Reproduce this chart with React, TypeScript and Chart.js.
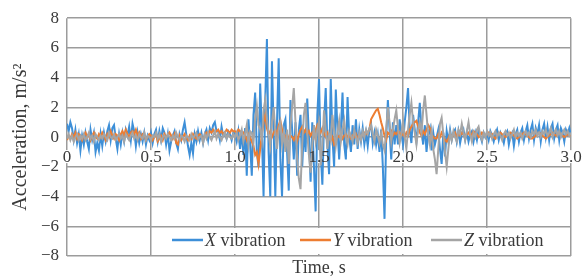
import React, { useEffect, useRef } from "react";
import { Chart, registerables } from "chart.js";

Chart.register(...registerables);

// ---- data ----
const TIME_STEP = 0.01; // s, sampling interval of the records
const X_TICKS = [0, 0.5, 1.0, 1.5, 2.0, 2.5, 3.0];
const X_TICK_LABELS = ["0", "0.5", "1.0", "1.5", "2.0", "2.5", "3.0"];
const Y_TICKS = [-8, -6, -4, -2, 0, 2, 4, 6, 8];
const Y_TICK_LABELS = ["\u22128", "\u22126", "\u22124", "\u22122", "0", "2", "4", "6", "8"];
const SERIES_LETTERS = ["X", "Y", "Z"];
const SERIES_SUFFIX = " vibration";

const X_VIB = [
  0.9, 0.4, 1.0, 0.6, -0.2, 0.5, -0.4, 0.2, -0.9, 0.1,
  -0.5, 0.3, -0.3, -0.8, 0.5, -0.2, 0.3, -1.0, -0.4, -0.9,
  0.2, -0.6, 0.3, -0.3, 0.4, 0.8, -0.2, 0.6, 0.8, -0.1,
  -0.8, 0.2, -0.5, 0.3, -0.3, 0.5, 0.1, 0.7, -0.2, 0.9,
  0.4, -0.6, 0.3, -0.4, 0.2, -0.3, 0.3, -0.5, 0.1, -0.2,
  0.3, -0.4, 0.2, 0.5, -0.3, 0.4, -0.2, 0.6, 0.3, -0.5,
  0.2, -0.9, -0.3, 0.1, 0.4, -0.4, -0.8, 0.2, -0.2, 0.5,
  1.0, 0.2, -0.6, -1.2, -0.4, -1.1, 0.2, -0.3, 0.4, -0.2,
  0.3, -0.4, 0.2, 0.5, -0.2, 0.6, 0.3, 0.8, 1.0, 0.4,
  0.4, -0.2, 0.7, 0.1, 0.3, -0.1, 0.4, 0.2, -0.2, 0.3,
  0.2, -0.3, 0.4, -0.8, 0.3, -1.2, 0.6, -2.6, 1.2, -0.5,
  -2.6, 1.5, 3.0, -1.0, -2.0, 3.6, 0.2, -4.0, 2.5, 6.6,
  -1.0, -4.0, 5.1, 0.5, -4.0, 1.0, 5.3, -1.5, -4.0, 0.8,
  1.2, -1.0, -3.6, 2.5, 0.5, -1.5, 1.0, -2.6, 0.5, 1.5,
  -2.0, 0.5, -1.0, 2.6, 0.0, -3.0, 1.0, -2.0, -5.0, 1.5,
  3.9, -1.0, -3.2, 1.0, 3.3, -0.5, -2.5, 3.9, 0.0, -2.0,
  3.2, 0.5, -1.5, 0.5, 3.0, -0.5, -1.5, 2.7, 0.0, -1.0,
  0.8, -0.5, 1.2, -0.8, 0.5, -0.3, 0.6, -0.5, 0.3, -0.6,
  0.5, 0.9, -0.4, 0.3, -0.5, 0.2, -1.0, 0.5, -2.0, -5.5,
  0.0, 2.5, 0.5, -1.5, 1.0, -0.5, 0.8, -0.5, 1.2, 0.3,
  -0.5, 1.0, 2.0, 3.3, 0.5, -0.4, 1.5, 0.5, -0.3, 1.0,
  2.3, 0.5, -0.5, 0.8, -1.0, 0.2, 0.6, -0.9, 0.3, -0.5,
  0.0, 0.5, -0.8, -1.8, 0.3, -1.3, 0.4, -0.3, 0.5, -0.2,
  0.3, 0.5, -0.3, 0.4, -0.4, 0.2, 0.5, -0.2, 0.3, -0.3,
  0.2, 0.4, -0.3, 0.3, -0.2, 0.5, 0.1, -0.3, 0.3, 0.0,
  0.3, -0.2, 0.4, 0.1, -0.3, 0.2, 0.5, -0.2, 0.3, 0.0,
  -0.4, 0.2, 0.4, -0.5, 0.1, 0.3, -0.6, 0.2, 0.5, -0.3,
  0.3, 0.6, -0.2, 0.4, 0.8, -0.1, 0.5, 0.9, -0.2, 0.6,
  0.2, 0.8, -0.3, 0.5, 0.9, 0.0, 0.7, -0.2, 0.6, 0.9,
  -0.1, 0.5, 0.8, -0.2, 0.6, 0.3, -0.3, 0.5, 0.2, 0.6,
  0.1,
];

const Y_VIB = [
  -0.2, 0.1, -0.1, 0.2, 0.0, 0.3, -0.1, 0.2, 0.1, -0.2,
  0.1, 0.3, 0.0, 0.2, -0.2, 0.1, 0.3, 0.0, -0.1, 0.2,
  0.0, 0.3, 0.1, -0.2, 0.2, 0.0, 0.4, 0.1, -0.1, 0.2,
  0.1, -0.2, 0.2, 0.4, 0.1, 0.5, 0.2, -0.1, 0.3, 0.4,
  0.2, 0.5, 0.1, 0.3, -0.1, 0.2, 0.1, -0.2, 0.0, 0.2,
  0.1, -0.2, 0.0, 0.2, -0.3, -0.1, 0.1, -0.2, 0.2, 0.0,
  0.1, 0.3, 0.1, -0.1, 0.2, -0.4, -0.5, 0.1, -0.2, 0.0,
  0.2, 0.0, -0.2, 0.1, -0.1, 0.2, 0.0, -0.1, 0.1, 0.2,
  0.0, -0.2, 0.1, 0.3, 0.2, 0.4, 0.3, 0.5, 0.3, 0.4,
  0.5, 0.3, 0.4, 0.2, 0.3, 0.5, 0.4, 0.3, 0.5, 0.4,
  0.4, 0.3, 0.5, 0.4, 0.2, 0.3, 0.1, -0.2, 0.2, 0.0,
  -0.3, -0.6, -1.2, -1.0, -1.8, -0.8, 0.2, 1.0, 1.5, 0.6,
  0.2, 0.4, 0.0, 0.3, 0.5, 0.2, 0.8, 1.1, 0.5, 0.2,
  0.0, 0.2, -0.1, 0.1, 0.0, -0.2, 0.1, -0.3, 0.2, 0.5,
  0.7, 0.3, 0.5, 0.2, 0.4, 0.1, 0.3, 0.0, 0.5, 0.8,
  0.5, 0.3, 0.6, 0.2, 0.0, 0.3, 0.1, -0.2, 0.0, -0.5,
  -0.3, 0.1, 0.0, 0.2, -0.1, 0.1, 0.2, 0.0, 0.1, -0.1,
  0.1, 0.0, 0.2, -0.1, 0.1, 0.0, 0.2, 0.3, 0.2, 0.3,
  0.5, 1.2, 1.4, 1.6, 1.8, 1.9, 1.5, 1.0, 0.6, 0.1,
  -0.2, 0.3, 0.2, 0.4, 0.1, 0.3, 0.2, 0.4, 0.3, 0.1,
  0.2, 0.0, 0.3, 0.1, 0.5, 0.7, 0.9, 1.0, 1.1, 0.7,
  0.3, 0.1, 0.4, 0.2, 0.5, 0.8, 0.6, 0.2, 0.0, -0.1,
  -0.1, 0.2, 0.0, 0.3, 0.1, -0.2, -0.3, -0.1, 0.2, 0.0,
  0.1, 0.3, 0.0, 0.2, 0.1, 0.3, 0.2, 0.0, 0.2, 0.3,
  0.1, 0.2, 0.4, 0.3, 0.2, 0.0, 0.1, 0.3, 0.2, 0.1,
  0.2, 0.3, 0.1, 0.2, 0.0, -0.1, 0.1, 0.2, 0.3, 0.2,
  0.1, 0.0, 0.1, 0.2, 0.3, 0.2, 0.1, 0.0, -0.1, 0.0,
  0.1, 0.2, 0.3, 0.2, 0.1, 0.0, -0.1, -0.1, 0.0, 0.1,
  0.2, 0.3, 0.2, 0.1, 0.0, -0.1, 0.0, 0.1, 0.2, 0.3,
  0.2, 0.1, 0.2, 0.3, 0.2, 0.1, 0.0, 0.1, 0.2, 0.1,
  0.2,
];

const Z_VIB = [
  -0.1, 0.2, -0.2, 0.1, -0.3, 0.0, 0.2, -0.2, 0.1, -0.1,
  0.2, -0.2, 0.0, 0.3, -0.1, 0.1, -0.3, 0.2, 0.0, -0.2,
  0.1, -0.1, 0.2, 0.0, -0.2, 0.3, 0.0, -0.1, 0.2, -0.2,
  0.0, 0.2, -0.1, 0.1, -0.3, 0.2, 0.0, -0.2, 0.1, 0.3,
  -0.1, 0.1, -0.2, 0.2, 0.0, -0.1, 0.3, -0.2, 0.1, 0.0,
  -0.2, 0.1, 0.0, 0.3, -0.1, 0.2, -0.3, 0.0, 0.1, -0.1,
  0.2, 0.0, -0.2, 0.1, -0.1, 0.3, 0.0, -0.2, 0.1, 0.0,
  -0.3, 0.1, 0.0, -0.2, 0.2, -0.1, 0.1, 0.3, -0.2, 0.0,
  0.1, -0.4, 0.2, -0.1, 0.3, 0.0, -0.2, 0.1, 0.4, -0.1,
  0.2, 0.0, -0.2, 0.1, 0.3, -0.1, 0.2, 0.0, -0.1, 0.2,
  0.0, 0.3, -0.2, 0.1, 0.5, -0.3, 0.2, 0.8, -0.5, 0.4,
  0.3, -0.4, 1.3, 2.1, 0.8, 0.5, -0.2, 1.8, 2.5, 1.2,
  0.2, -0.6, 1.0, 2.0, 0.4, -0.8, 0.5, 1.0, -0.5, 0.3,
  -1.0, 0.5, -1.8, 0.8, 2.0, 3.3, 1.0, -1.5, -2.8, -3.5,
  -0.5, 1.5, 2.3, 0.3, -1.2, -2.4, -0.5, 0.8, -0.3, 0.5,
  1.0, -1.9, -0.5, 1.8, 0.5, -0.8, 0.2, -0.2, 1.5, 0.4,
  -0.6, 0.3, 1.1, -0.3, 0.5, 1.1, 0.0, -0.5, 0.4, 0.1,
  -0.3, 0.5, 0.0, -0.4, 0.3, -0.2, 0.4, 0.0, 0.5, 0.2,
  0.6, 0.8, 0.2, -0.3, 0.5, 0.1, -0.4, 0.3, -0.5, -0.9,
  0.5, 2.0, 1.0, -0.3, 0.5, 1.2, 1.8, 0.6, -0.4, 0.2,
  1.1, 0.0, -0.8, 0.5, 1.5, 2.3, 1.0, 0.3, -0.5, 0.5,
  1.0, 0.3, 1.8, 2.8, 1.5, 0.2, -0.5, 0.4, -0.8, -1.5,
  -2.5, -0.8, 0.9, 1.3, 0.2, -1.0, -2.0, -0.8, 0.3, -0.2,
  0.4, 0.0, -0.3, 0.5, 0.2, 0.9, 0.3, -0.2, 0.4, 1.0,
  0.2, -0.3, 0.3, 0.0, 0.5, 0.7, 0.1, -0.2, 0.3, 0.0,
  0.4, 0.1, 0.3, -0.1, 0.2, 0.4, 0.0, 0.3, 0.1, -0.2,
  0.2, 0.4, 0.1, 0.3, -0.1, 0.2, 0.5, 0.0, 0.3, 0.1,
  0.3, -0.1, 0.2, 0.4, 0.1, 0.3, 0.0, 0.4, 0.2, 0.5,
  0.1, 0.3, 0.0, 0.4, 0.2, 0.5, 0.1, 0.3, 0.6, 0.0,
  0.3, 0.5, 0.1, 0.4, 0.0, 0.3, 0.5, 0.2, 0.4, 0.1,
  0.3,
];

// ---- styles ----
const FONT = "'Liberation Serif', 'Times New Roman', serif";
const TEXT_COLOR = "#3a3a3a";
const GRID_COLOR = "#9c9c9c";
const COLORS = ["#3d8fd8", "#ed7d31", "#a5a5a5"];

const toPoints = (arr: number[]) =>
  arr.map((v, i) => ({ x: Math.round(i * TIME_STEP * 100) / 100, y: v }));

const xLabelsPlugin = {
  id: "xLabelsOnZero",
  beforeDatasetsDraw(chart: any) {
    const { ctx, scales } = chart;
    const y0 = scales.y.getPixelForValue(0);
    ctx.save();
    ctx.font = `17px ${FONT}`;
    ctx.fillStyle = "#ffffff";
    X_TICKS.forEach((t, i) => {
      const x = scales.x.getPixelForValue(t);
      const w = ctx.measureText(X_TICK_LABELS[i]).width;
      ctx.fillRect(x - w / 2 - 1, y0 + 13, w + 2, 13);
    });
    ctx.restore();
  },
  afterDatasetsDraw(chart: any) {
    const { ctx, scales } = chart;
    const y0 = scales.y.getPixelForValue(0);
    ctx.save();
    ctx.font = `17px ${FONT}`;
    ctx.fillStyle = TEXT_COLOR;
    ctx.textAlign = "center";
    ctx.textBaseline = "alphabetic";
    X_TICKS.forEach((t, i) => {
      const x = scales.x.getPixelForValue(t);
      ctx.fillText(X_TICK_LABELS[i], x, y0 + 25);
    });
    ctx.restore();
  },
};

const legendPlugin = {
  id: "insideLegend",
  afterDraw(chart: any) {
    const { ctx, chartArea } = chart;
    const left = chartArea.left;
    const bottom = chartArea.bottom;
    ctx.save();
    ctx.fillStyle = "#ffffff";
    ctx.fillRect(left + 93, bottom - 28, chartArea.right - left - 96, 26);
    const starts = [left + 105, left + 233, left + 364];
    const yLine = bottom - 16;
    SERIES_LETTERS.forEach((letter, i) => {
      const sx = starts[i];
      ctx.strokeStyle = COLORS[i];
      ctx.lineWidth = 2.5;
      ctx.beginPath();
      ctx.moveTo(sx, yLine);
      ctx.lineTo(sx + 31, yLine);
      ctx.stroke();
      ctx.fillStyle = TEXT_COLOR;
      ctx.textBaseline = "alphabetic";
      ctx.textAlign = "left";
      ctx.font = `italic 18px ${FONT}`;
      const tx = sx + 33;
      ctx.fillText(letter, tx, bottom - 10);
      const lw = ctx.measureText(letter).width;
      ctx.font = `18px ${FONT}`;
      ctx.fillText(SERIES_SUFFIX, tx + lw, bottom - 10);
    });
    ctx.restore();
  },
};

export default function App() {
  const canvasRef = useRef<HTMLCanvasElement | null>(null);

  useEffect(() => {
    if (!canvasRef.current) return;
    const series = [X_VIB, Y_VIB, Z_VIB];
    const chart = new Chart(canvasRef.current, {
      type: "line",
      data: {
        datasets: series.map((arr, i) => ({
          label: SERIES_LETTERS[i] + SERIES_SUFFIX,
          data: toPoints(arr),
          borderColor: COLORS[i],
          backgroundColor: COLORS[i],
          borderWidth: 2,
          pointRadius: 0,
          tension: 0,
          fill: false,
          order: 3 - i,
        })),
      },
      options: {
        animation: false,
        responsive: true,
        maintainAspectRatio: false,
        events: [],
        layout: { padding: { top: 18, right: 13, left: 0, bottom: 0 } },
        plugins: {
          legend: { display: false },
          tooltip: { enabled: false },
        },
        scales: {
          x: {
            type: "linear",
            min: X_TICKS[0],
            max: X_TICKS[X_TICKS.length - 1],
            afterBuildTicks: (scale: any) => {
              scale.ticks = X_TICKS.map((v) => ({ value: v }));
            },
            ticks: { display: false },
            grid: { color: GRID_COLOR, lineWidth: 1.5, drawTicks: false },
            border: { display: false },
            title: {
              display: true,
              text: "Time, s",
              color: TEXT_COLOR,
              font: { family: FONT, size: 18 },
              padding: { top: 0, bottom: -3 },
            },
            afterFit: (scale: any) => {
              scale.height = 20;
            },
          },
          y: {
            type: "linear",
            min: Y_TICKS[0],
            max: Y_TICKS[Y_TICKS.length - 1],
            afterBuildTicks: (scale: any) => {
              scale.ticks = Y_TICKS.map((v) => ({ value: v }));
            },
            ticks: {
              padding: 8,
              color: TEXT_COLOR,
              font: { family: FONT, size: 17 },
              callback: (v: any) => Y_TICK_LABELS[Y_TICKS.indexOf(Number(v))],
            },
            grid: { color: GRID_COLOR, lineWidth: 1.5, drawTicks: false },
            border: { display: false },
            title: {
              display: true,
              text: "Acceleration, m/s\u00B2",
              color: TEXT_COLOR,
              font: { family: FONT, size: 20 },
              padding: { top: 9, bottom: 0 },
            },
            afterFit: (scale: any) => {
              scale.width = 67;
            },
          },
        },
      },
      plugins: [xLabelsPlugin, legendPlugin],
    });
    return () => chart.destroy();
  }, []);

  return (
    <div style={{ position: "absolute", left: 0, top: 0, width: 584, height: 276, background: "#fff" }}>
      <canvas ref={canvasRef} />
    </div>
  );
}
